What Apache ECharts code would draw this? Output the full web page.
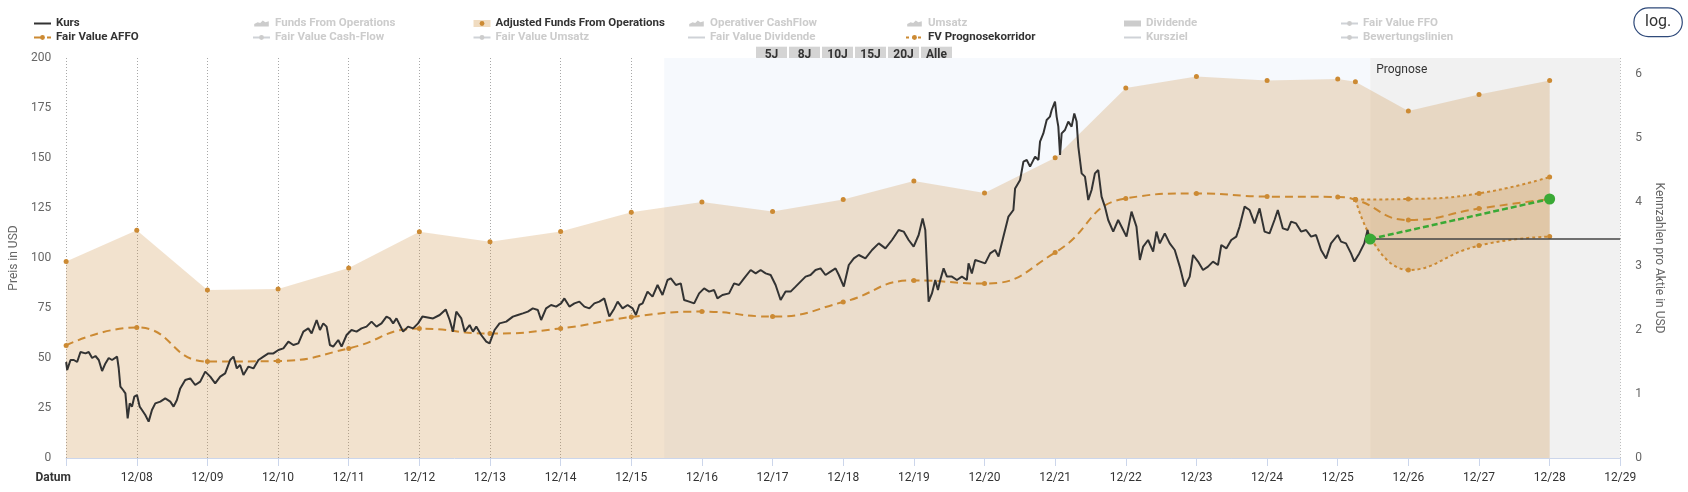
<!DOCTYPE html>
<html><head><meta charset="utf-8">
<script src="https://cdn.jsdelivr.net/npm/echarts@6/dist/echarts.min.js"></script>
<style>html,body{margin:0;padding:0;background:#fff}#c{width:1688px;height:492px}</style>
</head><body><div id="c"></div>
<script>
// x values: years since Dec 2007 (0 = 12/07, 1 = 12/08, ...)
const xLabels = ['Datum','12/08','12/09','12/10','12/11','12/12','12/13','12/14','12/15','12/16','12/17','12/18','12/19','12/20','12/21','12/22','12/23','12/24','12/25','12/26','12/27','12/28','12/29'];

// Kurs (USD, left axis)
const kurs = [
[0,48],[0.015,44],[0.062,49],[0.109,49],[0.156,48],[0.203,53],[0.274,52.3],[0.32,53],[0.368,50],[0.415,51],[0.462,49],[0.509,43.5],[0.556,47.3],[0.603,50],[0.65,49],[0.721,50.7],[0.744,45],[0.768,35.7],[0.806,34],[0.839,32.3],[0.871,19.8],[0.9,27.3],[0.933,25.7],[0.966,30.7],[1.003,31.5],[1.041,25.7],[1.074,24],[1.121,21.5],[1.168,18.2],[1.215,24],[1.262,27.3],[1.333,28.2],[1.403,29.8],[1.474,28.2],[1.521,25.7],[1.568,29],[1.615,34.8],[1.686,39],[1.757,39.8],[1.827,36.5],[1.898,38.2],[1.969,43.2],[2.04,40.7],[2.11,37.3],[2.181,40.7],[2.251,42.3],[2.322,49],[2.369,50.7],[2.416,44.8],[2.463,46.5],[2.51,41.5],[2.581,45.7],[2.651,44.8],[2.722,49],[2.793,50.7],[2.863,52.3],[2.934,52.3],[3.005,54],[3.075,54.8],[3.146,58.2],[3.216,56.5],[3.287,57.3],[3.358,63.2],[3.428,64.8],[3.475,62.3],[3.546,69],[3.593,64],[3.64,67.3],[3.687,65.7],[3.734,56.5],[3.781,55.7],[3.852,59],[3.899,55.7],[3.97,61.5],[4.04,64],[4.111,63.2],[4.181,64.8],[4.252,65.7],[4.323,68.2],[4.393,65.7],[4.464,67.3],[4.535,70.7],[4.582,69.8],[4.629,67.3],[4.676,69.8],[4.723,66.5],[4.77,63.2],[4.84,65.7],[4.911,64.8],[4.982,67.3],[5.043,70.7],
[5.194,69.8],[5.288,71.5],[5.373,74.3],[5.429,69],[5.476,63.2],[5.523,73.2],[5.594,69.8],[5.641,63.2],[5.712,66.5],[5.759,63.2],[5.806,65.7],[5.876,61.5],[5.947,58.2],[5.994,57.3],[6.065,64],[6.135,67.3],[6.23,68.2],[6.324,70.7],[6.394,71.5],[6.465,72.3],[6.536,73.2],[6.606,74.8],[6.677,74],[6.724,69],[6.794,74.8],[6.865,76.5],[6.936,75.7],[7.006,77.3],[7.053,79.8],[7.124,75.7],[7.195,77.3],[7.265,78.2],[7.336,75.7],[7.407,74.8],[7.477,77.3],[7.548,78.2],[7.618,79.8],[7.689,70.7],[7.76,74.8],[7.807,78.2],[7.877,74.8],[7.948,76.5],[8.019,74.8],[8.066,71.5],[8.113,76.5],[8.16,77.3],[8.23,83.2],[8.301,80.7],[8.372,86.5],[8.442,81.5],[8.513,89],[8.56,89.8],[8.631,86.5],[8.701,87.3],[8.748,79],[8.819,78.2],[8.89,77.3],[8.96,82.3],[9.031,84.8],[9.102,83.2],[9.172,84],[9.219,79.8],[9.29,81.5],[9.384,82.3],[9.455,87.3],[9.525,86.5],[9.596,89.8],[9.69,94],[9.761,92.3],[9.831,94],[9.902,92.3],[9.973,91.5],[10.043,86.5],[10.114,79],[10.184,83.2],[10.255,83.2],[10.326,85.7],[10.396,88.2],[10.467,90.7],[10.537,91.5],[10.608,94],[10.679,94.8],[10.749,91.5],[10.82,93.2],[10.891,94.8],[10.938,91.5],[11.008,85.7],[11.079,96.5],[11.15,99.8],
[11.22,101.5],[11.314,99.8],[11.408,104],[11.503,107.3],[11.597,104.8],[11.691,109],[11.785,114],[11.856,113.2],[11.926,109],[11.997,105.7],[12.068,111.5],[12.124,119.8],[12.162,114],[12.185,95.7],[12.209,78.2],[12.256,82.3],[12.303,89],[12.341,84],[12.374,89],[12.421,94.8],[12.468,90.7],[12.538,90.7],[12.609,89],[12.68,90.7],[12.75,89],[12.774,97.3],[12.821,92.3],[12.868,99],[12.939,98.2],[13.009,97.3],[13.08,102.3],[13.15,104],[13.198,100.7],[13.268,110.7],[13.339,120.7],[13.409,124],[13.433,134.8],[13.504,139],[13.551,148.2],[13.598,149],[13.645,145.7],[13.716,150.7],[13.763,149],[13.786,158.2],[13.833,162.3],[13.88,169],[13.927,170.7],[13.951,174],[13.998,178.2],[14.021,170.7],[14.045,165.7],[14.069,151.5],[14.092,162.3],[14.139,164],[14.186,168.2],[14.233,165.7],[14.271,172.3],[14.304,168.2],[14.328,155.7],[14.375,142.3],[14.422,140.7],[14.469,129],[14.516,134],[14.563,142.3],[14.61,144],[14.657,130.7],[14.704,125.7],[14.751,119],[14.822,113.2],[14.892,119],[14.963,114],[15.01,110.7],[15.081,123.2],[15.151,115.7],[15.199,99],[15.246,105.7],[15.316,109],[15.387,103.2],[15.434,113.2],[15.481,107.3],[15.552,112.3],[15.622,107.3],[15.693,104],[15.764,95.7],[15.834,85.7],[15.905,90.7],[15.952,101.5],[16.023,98.2],[16.093,94],[16.164,95.7],[16.234,98.2],[16.305,96.5],[16.352,106.5],[16.423,104.8],[16.493,109],[16.564,110.7],[16.611,115.7],[16.682,125.7],[16.752,124],[16.823,117.3],[16.894,124.8],[16.964,113.2],[17.035,112.3],
[17.105,119],[17.152,124],[17.223,114.8],[17.293,114],[17.34,118.2],[17.411,117.3],[17.481,113.2],[17.552,114],[17.623,110.7],[17.693,111.5],[17.764,104],[17.835,99.8],[17.905,107.3],[18.0,111.5],[18.047,108.2],[18.117,107.3],[18.188,102.3],[18.235,98.2],[18.305,102.3],[18.376,107.3],[18.423,114],[18.447,109],[18.46,109.5]
];

// Adjusted Funds From Operations per share (right axis)
const affo = [[0,3.07],[1,3.56],[2,2.625],[3,2.64],[4,2.97],[5,3.535],[6,3.38],[7,3.54],[8,3.84],[9,4.0],[10,3.85],[11,4.04],[12,4.33],[13,4.14],[14,4.69],[15,5.78],[16,5.96],[17,5.9],[18,5.92],[18.25,5.88],[19,5.42],[20,5.68],[21,5.9]];

// Fair Value AFFO (left axis)
const fvAffo = [[0,56.3],[1,65.3],[2,48.2],[3,48.5],[4,54.8],[5,64.7],[6,62.2],[7,64.8],[8,70.5],[9,73.2],[10,70.7],[11,78],[12,88.8],[13,87.2],[14,102.7],[15,129.8],[16,132.3],[17,130.7],[18,130.5],[18.25,129.2],[19,119],[20,124.7],[21,129.5]];

// FV Prognosekorridor
const corridorUpper = [[18.25,129.2],[19,129.5],[20,132.3],[21,140.5]];
const corridorLower = [[18.25,129.2],[19,94],[20,106.2],[21,110.7]];

// current price and target
const currentT = 18.46, currentPrice = 109.5;
const targetPoint = [21, 129.5];
const blueBand = [8.466, 18.46];
const prognoseBand = [18.46, 22];

const legendCols = [
 ['Kurs','Fair Value AFFO'],
 ['Funds From Operations','Fair Value Cash-Flow'],
 ['Adjusted Funds From Operations','Fair Value Umsatz'],
 ['Operativer CashFlow','Fair Value Dividende'],
 ['Umsatz','FV Prognosekorridor'],
 ['Dividende','Kursziel'],
 ['Fair Value FFO','Bewertungslinien']
];
const activeNames = ['Kurs','Fair Value AFFO','Adjusted Funds From Operations','FV Prognosekorridor'];
const rangeButtons = ['5J','8J','10J','15J','20J','Alle'];

const FONT = 'Roboto, "Noto Sans", sans-serif';
const ORANGE = '#cc8a33';
const GREEN = '#3aa935';
const SMOOTH = 0.5;

const legendLeft = [28,247,465,682,900,1118,1335];
const mountain = 'path://M0,8 L0,5 L4,3 L7,4 L10,1 L13,3 L17,2 L17,8 Z';

function legendItem(n){
  const d = {name:n};
  if (n==='Funds From Operations'||n==='Operativer CashFlow'||n==='Umsatz') d.icon = mountain;
  if (n==='Dividende') d.icon = 'rect';
  if (n==='Kurs'||n==='Fair Value Dividende'||n==='Kursziel') d.itemStyle = {opacity:0};
  if (n==='Adjusted Funds From Operations') { d.lineStyle = {width:7,color:'#f0dcc1',opacity:1}; d.itemStyle={color:ORANGE}; }
  return d;
}

const legends = legendCols.map((col,i)=>({
  orient:'vertical', left: legendLeft[i], top: 12, itemWidth:17, itemHeight:6, itemGap:1,
  textStyle:{fontFamily:FONT,fontSize:11.5,fontWeight:'bold',color:'#333',lineHeight:13},
  inactiveColor:'#ccc',
  selected: Object.fromEntries(col.map(n=>[n, activeNames.includes(n)])),
  data: col.map(legendItem)
}));

const dummyStyles = {
  'Funds From Operations':{symbol:'none',type:'solid'},
  'Fair Value Cash-Flow':{symbol:'circle',type:'solid'},
  'Fair Value Umsatz':{symbol:'circle',type:'dashed'},
  'Operativer CashFlow':{symbol:'none',type:'solid'},
  'Fair Value Dividende':{symbol:'circle',type:'solid'},
  'Umsatz':{symbol:'none',type:'solid'},
  'Dividende':{symbol:'none',type:'solid'},
  'Kursziel':{symbol:'circle',type:'dashed'},
  'Fair Value FFO':{symbol:'circle',type:'solid'},
  'Bewertungslinien':{symbol:'circle',type:'dotted'}
};
const dummySeries = Object.keys(dummyStyles).map(n=>({
  name:n, type:'line', data:[], symbol:dummyStyles[n].symbol, symbolSize:4,
  itemStyle:{color:'#ccc'}, lineStyle:{color:'#ccc',width:2,type:dummyStyles[n].type}
}));

// same cubic construction ECharts uses for smooth lines, so the band fill follows the dotted lines
function smoothSegments(pts, smooth){
  const segs=[]; let cpx0, cpy0, prevX, prevY;
  for (let i=0;i<pts.length;i++){
    const x=pts[i][0], y=pts[i][1];
    if (i===0){ cpx0=x; cpy0=y; }
    else {
      let cpx1, cpy1, nextCpx0=x, nextCpy0=y;
      if (i===pts.length-1){ cpx1=x; cpy1=y; }
      else {
        const nextX=pts[i+1][0], nextY=pts[i+1][1];
        let vx=nextX-prevX, vy=nextY-prevY;
        const lenPrev=Math.hypot(x-prevX,y-prevY), lenNext=Math.hypot(nextX-x,nextY-y);
        const r=lenNext/(lenNext+lenPrev);
        nextCpx0=x+vx*smooth*r; nextCpy0=y+vy*smooth*r;
        nextCpx0=Math.min(nextCpx0,Math.max(nextX,x)); nextCpy0=Math.min(nextCpy0,Math.max(nextY,y));
        nextCpx0=Math.max(nextCpx0,Math.min(nextX,x)); nextCpy0=Math.max(nextCpy0,Math.min(nextY,y));
        vx=nextCpx0-x; vy=nextCpy0-y;
        cpx1=x-vx*lenPrev/lenNext; cpy1=y-vy*lenPrev/lenNext;
        cpx1=Math.min(cpx1,Math.max(prevX,x)); cpy1=Math.min(cpy1,Math.max(prevY,y));
        cpx1=Math.max(cpx1,Math.min(prevX,x)); cpy1=Math.max(cpy1,Math.min(prevY,y));
        vx=x-cpx1; vy=y-cpy1;
        nextCpx0=x+vx*lenNext/lenPrev; nextCpy0=y+vy*lenNext/lenPrev;
      }
      segs.push([[prevX,prevY],[cpx0,cpy0],[cpx1,cpy1],[x,y]]);
      cpx0=nextCpx0; cpy0=nextCpy0;
    }
    prevX=x; prevY=y;
  }
  return segs;
}
function sampleSegments(segs){
  const out=[];
  segs.forEach((s,si)=>{
    const N=30;
    for (let k=(si===0?0:1); k<=N; k++){
      const t=k/N, u=1-t;
      const a=u*u*u, b=3*u*u*t, c=3*u*t*t, d=t*t*t;
      out.push([a*s[0][0]+b*s[1][0]+c*s[2][0]+d*s[3][0], a*s[0][1]+b*s[1][1]+c*s[2][1]+d*s[3][1]]);
    }
  });
  return out;
}

const graphics = [];
rangeButtons.forEach((b,i)=>{
  graphics.push({type:'group', left: 756 + i*33, top: 46.7, z:100, children:[
    {type:'rect', shape:{x:0,y:0,width:31,height:16.6}, style:{fill:'#d4d4d4'}},
    {type:'text', x:15.5, y:8.3, style:{text:b, fill:'#333', font:'bold 12px '+FONT, align:'center', verticalAlign:'middle'}}
  ]});
});
graphics.push({type:'group', left:1633.3, top:7.3, z:100, children:[
  {type:'rect', shape:{x:0,y:0,width:48.4,height:28.7,r:14.3}, style:{fill:'#fff', stroke:'#2f4a7a', lineWidth:1.2}},
  {type:'text', x:24.2, y:14.3, style:{text:'log.', fill:'#333', font:'16px '+FONT, align:'center', verticalAlign:'middle'}}
]});

const chart = echarts.init(document.getElementById('c'));
chart.setOption({
  animation:false,
  backgroundColor:'#fff',
  textStyle:{fontFamily:FONT},
  legend: legends,
  graphic: graphics,
  grid:{left:62.3, right:67.7, top:58, bottom:34, containLabel:false},
  xAxis:{type:'value', min:0, max:22, interval:1,
    axisLine:{show:true, lineStyle:{color:'#ccd6eb', width:1}},
    axisTick:{show:true, length:8, lineStyle:{color:'#ccd6eb'}},
    splitLine:{show:true, lineStyle:{color:'#a8a8a8', width:1, type:[1,2]}},
    axisLabel:{color:'#333', fontSize:12, fontFamily:FONT, margin:14,
      formatter:v=> v===0 ? '{d|'+xLabels[0]+'}' : xLabels[v],
      rich:{d:{fontWeight:'bold', color:'#333', fontSize:12, fontFamily:FONT, padding:[0,26,0,0]}}}
  },
  yAxis:[
    {type:'value', min:0, max:200, interval:25, position:'left',
     name:'Preis in USD', nameLocation:'middle', nameGap:38,
     nameTextStyle:{color:'#666', fontSize:12, fontFamily:FONT},
     axisLine:{show:false}, axisTick:{show:false}, splitLine:{show:false},
     axisLabel:{color:'#666', fontSize:12, margin:15}},
    {type:'value', min:0, max:6.25, interval:1, position:'right',
     name:'Kennzahlen pro Aktie in USD', nameLocation:'middle', nameGap:19, nameRotate:-90,
     nameTextStyle:{color:'#666', fontSize:12, fontFamily:FONT},
     axisLine:{show:false}, axisTick:{show:false}, splitLine:{show:false},
     axisLabel:{color:'#666', fontSize:12, margin:15, formatter:v=> Number.isInteger(v) ? String(v) : ''}}
  ],
  series:[
    {name:'Adjusted Funds From Operations', type:'line', yAxisIndex:1, data:affo, z:2,
     symbol:'circle', symbolSize:5, itemStyle:{color:ORANGE},
     lineStyle:{width:0, color:ORANGE}, areaStyle:{color:'rgba(205,140,60,0.25)', opacity:1},
     markArea:{silent:true, z:1, data:[
       [{xAxis:blueBand[0], itemStyle:{color:'#f6f9fd'}}, {xAxis:blueBand[1]}],
       [{xAxis:prognoseBand[0], itemStyle:{color:'#f1f1f1'},
         label:{show:true, position:'insideTopLeft', distance:6, formatter:'Prognose', color:'#333', fontSize:12, fontFamily:FONT}},
        {xAxis:prognoseBand[1]}]
     ]}},
    {name:'_corrFill', type:'custom', data:[[0,0]], z:3, silent:true,
     renderItem:(params, api)=>{
       const up = sampleSegments(smoothSegments(corridorUpper.map(p=>api.coord(p)), SMOOTH));
       const lo = sampleSegments(smoothSegments(corridorLower.map(p=>api.coord(p)), SMOOTH));
       return {type:'polygon', shape:{points: up.concat(lo.reverse())}, style:{fill:'rgba(200,135,55,0.2)'}};
     }},
    {name:'_corrLow', type:'line', data:corridorLower, smooth:SMOOTH, z:4,
     symbol:'circle', symbolSize:5, itemStyle:{color:ORANGE},
     lineStyle:{color:ORANGE, width:2, type:[3,3]}},
    {name:'FV Prognosekorridor', type:'line', data:corridorUpper, smooth:SMOOTH, z:4,
     symbol:'circle', symbolSize:5, itemStyle:{color:ORANGE},
     lineStyle:{color:ORANGE, width:2, type:[3,3]}},
    {name:'Fair Value AFFO', type:'line', data:fvAffo, smooth:SMOOTH, z:5,
     symbol:'circle', symbolSize:5, itemStyle:{color:ORANGE},
     lineStyle:{color:ORANGE, width:2, type:[8,5]}},
    {name:'Kurs', type:'line', data:kurs, symbol:'none', z:6,
     lineStyle:{color:'#333', width:2}},
    {name:'_current', type:'line', data:[[currentT,currentPrice],[prognoseBand[1],currentPrice]], symbol:'none', z:6,
     lineStyle:{color:'#444', width:1.5}},
    {name:'_target', type:'line', data:[[currentT,currentPrice], targetPoint], z:7,
     symbol:'circle', symbolSize:11, itemStyle:{color:GREEN},
     lineStyle:{color:GREEN, width:2.5, type:[6,3]}},
    ...dummySeries
  ]
});
</script>
</body></html>
